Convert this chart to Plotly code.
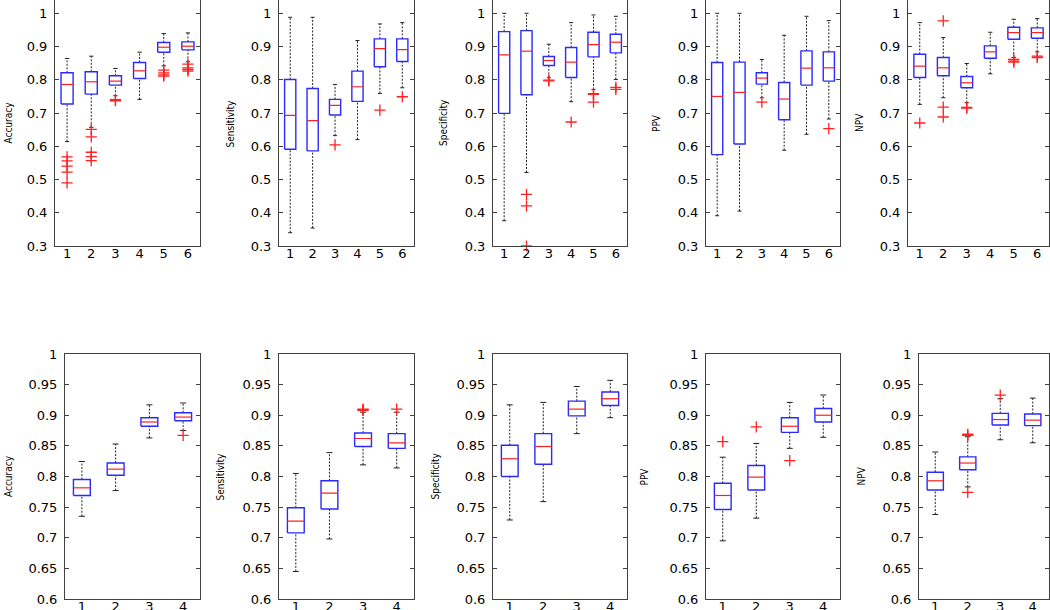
import plotly.graph_objects as go

# ---------------- data ----------------
metrics = ["Accuracy", "Sensitivity", "Specificity", "PPV", "NPV"]

top_groups = [1, 2, 3, 4, 5, 6]
bottom_groups = [1, 2, 3, 4]

top_ytick_vals = [0.3, 0.4, 0.5, 0.6, 0.7, 0.8, 0.9, 1.0]
top_ytick_text = ["0.3", "0.4", "0.5", "0.6", "0.7", "0.8", "0.9", "1"]
bottom_ytick_vals = [0.6, 0.65, 0.7, 0.75, 0.8, 0.85, 0.9, 0.95, 1.0]
bottom_ytick_text = ["0.6", "0.65", "0.7", "0.75", "0.8", "0.85", "0.9", "0.95", "1"]

# top row: one list per metric, one value per group
top_hi = [
    [0.864, 0.871, 0.834, 0.883, 0.939, 0.941],
    [0.988, 0.988, 0.786, 0.918, 0.968, 0.972],
    [1.000, 1.000, 0.907, 0.972, 0.995, 0.991],
    [1.000, 1.000, 0.861, 0.934, 0.991, 0.978],
    [0.972, 0.927, 0.849, 0.943, 0.982, 0.984],
]
top_q3 = [
    [0.821, 0.824, 0.812, 0.852, 0.912, 0.914],
    [0.801, 0.774, 0.741, 0.826, 0.923, 0.923],
    [0.945, 0.948, 0.870, 0.897, 0.943, 0.937],
    [0.852, 0.853, 0.821, 0.792, 0.887, 0.884],
    [0.877, 0.867, 0.810, 0.902, 0.958, 0.956],
]
top_med = [
    [0.786, 0.794, 0.796, 0.827, 0.898, 0.901],
    [0.693, 0.677, 0.723, 0.779, 0.894, 0.891],
    [0.875, 0.886, 0.858, 0.853, 0.906, 0.913],
    [0.750, 0.762, 0.805, 0.742, 0.835, 0.836],
    [0.841, 0.836, 0.791, 0.884, 0.942, 0.942],
]
top_q1 = [
    [0.727, 0.757, 0.784, 0.804, 0.883, 0.890],
    [0.591, 0.586, 0.694, 0.735, 0.839, 0.855],
    [0.699, 0.755, 0.843, 0.807, 0.869, 0.881],
    [0.575, 0.607, 0.787, 0.680, 0.784, 0.796],
    [0.807, 0.812, 0.776, 0.865, 0.922, 0.925],
]
top_lo = [
    [0.614, 0.657, 0.752, 0.741, 0.842, 0.854],
    [0.340, 0.354, 0.632, 0.620, 0.759, 0.776],
    [0.376, 0.521, 0.806, 0.734, 0.771, 0.801],
    [0.391, 0.405, 0.746, 0.588, 0.636, 0.682],
    [0.726, 0.746, 0.731, 0.818, 0.867, 0.884],
]
top_out = [
    [[0.568, 0.556, 0.540, 0.522, 0.490], [0.651, 0.628, 0.582, 0.569, 0.557],
     [0.740, 0.737], [], [0.829, 0.821, 0.815, 0.811], [0.847, 0.836, 0.831, 0.826]],
    [[], [], [0.604], [], [0.709], [0.749]],
    [[], [0.455, 0.421, 0.300], [0.799, 0.797], [0.673], [0.758, 0.756, 0.733], [0.777, 0.771]],
    [[], [], [0.733], [], [], [0.653]],
    [[0.670], [0.977, 0.718, 0.688], [0.717, 0.715], [], [0.861, 0.856, 0.853], [0.871, 0.867]],
]

# bottom row
bottom_hi = [
    [0.8245, 0.853, 0.917, 0.920],
    [0.805, 0.839, 0.905, 0.905],
    [0.917, 0.921, 0.947, 0.957],
    [0.8315, 0.854, 0.921, 0.933],
    [0.840, 0.865, 0.927, 0.928],
]
bottom_q3 = [
    [0.795, 0.822, 0.896, 0.904],
    [0.749, 0.793, 0.871, 0.870],
    [0.851, 0.870, 0.923, 0.938],
    [0.789, 0.818, 0.896, 0.911],
    [0.807, 0.832, 0.903, 0.902],
]
bottom_med = [
    [0.7815, 0.812, 0.889, 0.897],
    [0.727, 0.773, 0.862, 0.855],
    [0.829, 0.849, 0.910, 0.927],
    [0.769, 0.799, 0.882, 0.900],
    [0.793, 0.822, 0.893, 0.892],
]
bottom_q1 = [
    [0.769, 0.802, 0.882, 0.891],
    [0.708, 0.747, 0.849, 0.846],
    [0.800, 0.820, 0.899, 0.916],
    [0.746, 0.778, 0.872, 0.889],
    [0.778, 0.811, 0.884, 0.883],
]
bottom_lo = [
    [0.735, 0.777, 0.863, 0.875],
    [0.645, 0.698, 0.819, 0.814],
    [0.729, 0.759, 0.870, 0.896],
    [0.695, 0.732, 0.846, 0.864],
    [0.738, 0.783, 0.860, 0.855],
]
bottom_out = [
    [[], [], [], [0.867]],
    [[], [], [0.910, 0.909, 0.908], [0.910]],
    [[], [], [], []],
    [[0.857], [0.881], [0.826], []],
    [[], [0.869, 0.867, 0.774], [0.933], []],
]

# ---------------- layout geometry (pixels) ----------------
W, H = 1050, 610
top_x_px = [(55, 200), (279, 413.5), (493, 627), (706, 840), (908, 1049)]
bot_x_px = [(65, 200), (279, 413.5), (493, 627), (706, 840), (919, 1049)]
top_y_px = (0, 246)
bot_y_px = (354, 599)
top_title_x = [8.5, 230.5, 444, 657, 860]
bot_title_x = [8.5, 220, 435, 644, 861]

BOX_HALF = 0.25
CAP_HALF = 0.09
BLUE = "#2a2aff"
RED = "#ff2020"
FRAME = "#404040"

fig = go.Figure()


def add_panel(idx, groups, hi, q3, med, q1, lo, outs):
    ax = "" if idx == 1 else str(idx)
    xr, yr = "x" + ax, "y" + ax
    wx, wy, cx, cy, bx, by, mx, my, ox, oy = [], [], [], [], [], [], [], [], [], []
    for i, g in enumerate(groups):
        wx += [g, g, None, g, g, None]
        wy += [q3[i], hi[i], None, lo[i], q1[i], None]
        cx += [g - CAP_HALF, g + CAP_HALF, None, g - CAP_HALF, g + CAP_HALF, None]
        cy += [hi[i], hi[i], None, lo[i], lo[i], None]
        bx += [g - BOX_HALF, g + BOX_HALF, g + BOX_HALF, g - BOX_HALF, g - BOX_HALF, None]
        by += [q1[i], q1[i], q3[i], q3[i], q1[i], None]
        mx += [g - BOX_HALF, g + BOX_HALF, None]
        my += [med[i], med[i], None]
        for v in outs[i]:
            ox.append(g)
            oy.append(v)
    common = dict(xaxis=xr, yaxis=yr, showlegend=False, hoverinfo="skip", cliponaxis=False)
    fig.add_trace(go.Scatter(x=wx, y=wy, mode="lines",
                             line=dict(color="#222222", width=1, dash="2px,1.5px"), **common))
    fig.add_trace(go.Scatter(x=cx, y=cy, mode="lines",
                             line=dict(color="#222222", width=1), **common))
    fig.add_trace(go.Scatter(x=bx, y=by, mode="lines",
                             line=dict(color=BLUE, width=1.4), **common))
    fig.add_trace(go.Scatter(x=mx, y=my, mode="lines",
                             line=dict(color=RED, width=1.2), **common))
    fig.add_trace(go.Scatter(x=ox, y=oy, mode="markers",
                             marker=dict(symbol="cross-thin", size=8,
                                         line=dict(color=RED, width=1.3)), **common))


tick_font = dict(family="DejaVu Sans, Arial, sans-serif", size=13, color="black")
title_font = dict(family="Liberation Sans Narrow, DejaVu Sans Condensed, Arial Narrow, sans-serif",
                  size=10, color="black")

layout = dict(template="none", width=W, height=H,
              margin=dict(l=0, r=0, t=0, b=0, pad=0, autoexpand=False),
              paper_bgcolor="white", plot_bgcolor="white", showlegend=False)

annotations = []
for row in range(2):
    for p in range(5):
        idx = row * 5 + p + 1
        ax = "" if idx == 1 else str(idx)
        if row == 0:
            groups = top_groups
            add_panel(idx, groups, top_hi[p], top_q3[p], top_med[p], top_q1[p], top_lo[p], top_out[p])
            xpx, ypx = top_x_px[p], top_y_px
            yrange = [0.3, 1.04]
            tv, tt = top_ytick_vals, top_ytick_text
            tx = top_title_x[p]
        else:
            groups = bottom_groups
            add_panel(idx, groups, bottom_hi[p], bottom_q3[p], bottom_med[p], bottom_q1[p],
                      bottom_lo[p], bottom_out[p])
            xpx, ypx = bot_x_px[p], bot_y_px
            yrange = [0.6, 1.0]
            tv, tt = bottom_ytick_vals, bottom_ytick_text
            tx = bot_title_x[p]
        layout["xaxis" + ax] = dict(
            domain=[xpx[0] / W, xpx[1] / W], anchor="y" + ax,
            range=[0.5, len(groups) + 0.5], tickvals=groups,
            ticktext=[str(g) for g in groups], ticks="", showgrid=False, zeroline=False,
            showline=True, linecolor=FRAME, linewidth=1, mirror=True, automargin=False,
            tickfont=tick_font, ticklabelstandoff=-5,
        )
        layout["yaxis" + ax] = dict(
            domain=[1 - ypx[1] / H, 1 - ypx[0] / H], anchor="x" + ax,
            range=yrange, tickvals=tv, ticktext=tt, ticks="inside", ticklen=4,
            tickcolor=FRAME, showgrid=False, zeroline=False,
            showline=True, linecolor=FRAME, linewidth=1, mirror="ticks", automargin=False,
            tickfont=tick_font, ticklabelstandoff=4,
        )
        annotations.append(dict(
            text=metrics[p], x=tx / W, y=1 - (ypx[0] + ypx[1]) / 2 / H,
            xref="paper", yref="paper", xanchor="center", yanchor="middle",
            textangle=-90, showarrow=False, font=title_font,
        ))

layout["annotations"] = annotations
fig.update_layout(**layout)
fig.write_html("out.html", config={"displayModeBar": False},
               post_script="document.body.style.margin='0';document.body.style.overflow='hidden';")
